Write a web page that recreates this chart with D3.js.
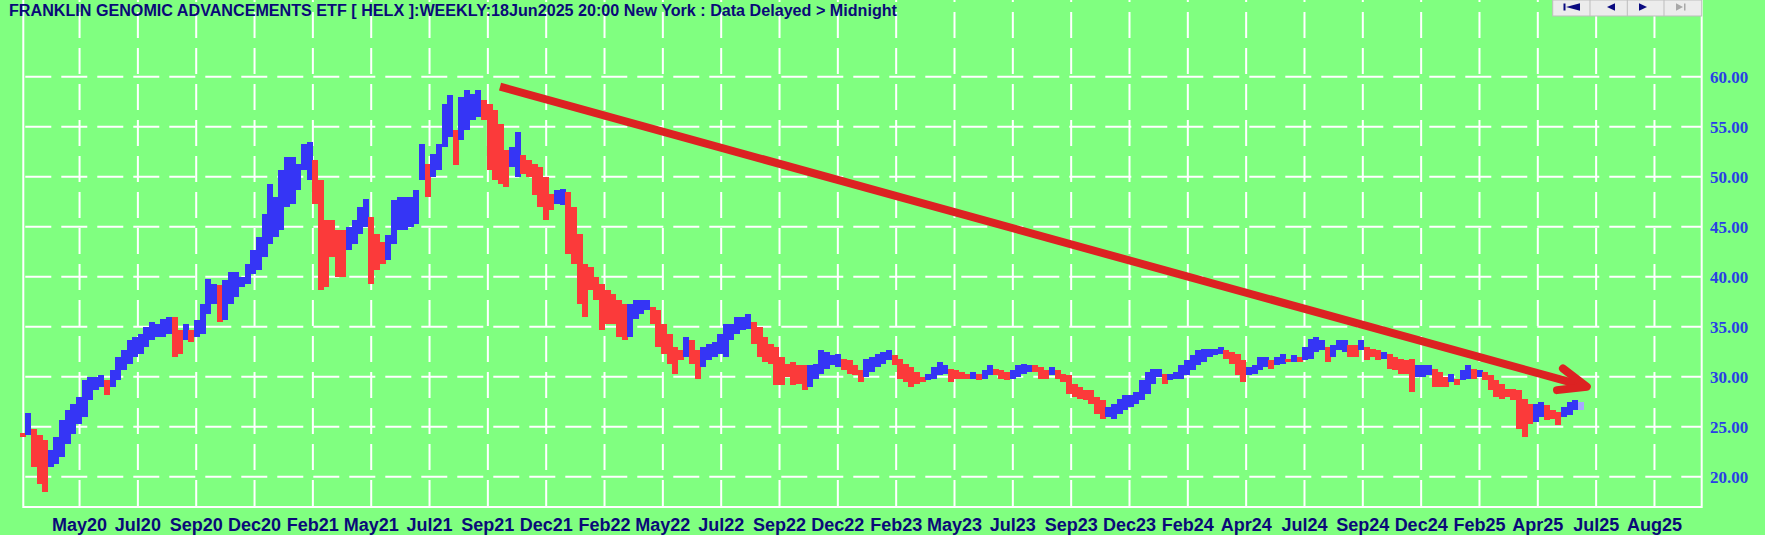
<!DOCTYPE html>
<html><head><meta charset="utf-8">
<script src="https://cdn.jsdelivr.net/npm/d3@7"></script>
<style>html,body{margin:0;padding:0;background:#80ff80;overflow:hidden}svg{display:block}</style>
</head><body><svg id="chart" width="1765" height="535"></svg>
<script>
// ---------- DATA ----------
const titleText = "FRANKLIN GENOMIC ADVANCEMENTS ETF [ HELX ]:WEEKLY:18Jun2025 20:00 New York : Data Delayed > Midnight";
const firstWeekDate = "2020-02-28"; // weekly bars, one per week
const highs = [
24.4,26.4,24.8,24.2,23.7,22.7,24.0,25.7,26.7,27.3,
28.0,29.7,30.0,30.0,30.2,29.7,30.7,32.0,32.7,33.7,
34.0,34.3,35.0,35.5,35.3,35.8,36.0,36.0,34.7,35.3,
34.7,35.7,37.3,39.8,39.3,39.2,39.7,40.5,40.5,40.0,
41.3,42.7,44.0,46.3,49.3,48.0,50.7,52.0,52.0,51.3,
53.3,53.5,51.7,49.7,45.7,45.7,44.7,44.7,45.0,45.7,
47.0,47.8,46.0,44.3,43.5,44.2,47.7,48.0,48.0,48.0,
48.7,53.3,51.3,52.3,53.3,57.3,58.2,54.7,58.0,58.7,
58.3,58.7,57.7,57.3,56.7,55.3,52.7,53.0,54.5,52.2,
51.7,51.3,51.0,50.0,48.3,48.7,48.8,48.5,47.0,44.3,
41.3,41.0,40.0,39.3,38.7,38.3,37.7,37.3,37.3,37.7,
37.7,37.7,37.0,36.7,35.3,34.3,33.0,32.7,34.0,33.7,
32.7,33.0,33.3,33.5,34.3,35.3,35.3,36.0,36.0,36.3,
35.5,35.0,34.0,33.3,33.0,32.0,31.3,31.5,31.2,31.2,
31.2,31.3,32.7,32.5,32.2,32.3,31.8,31.7,31.2,30.7,
31.8,32.0,32.3,32.5,32.7,32.2,31.8,31.3,31.0,30.5,
30.0,30.3,31.0,31.5,31.2,30.8,30.7,30.5,30.3,30.5,
30.3,30.7,31.2,30.8,30.7,30.5,30.7,31.2,31.3,31.2,
31.2,31.0,30.7,31.0,30.7,30.3,30.2,29.3,29.0,28.7,
28.7,28.0,27.7,27.0,27.3,27.8,28.2,28.2,28.5,29.7,
30.5,30.8,30.8,30.3,30.3,30.5,31.2,31.7,32.2,32.7,
32.8,32.8,32.8,33.0,32.7,32.5,32.3,31.7,31.0,31.2,
32.0,32.0,31.7,32.0,32.3,31.8,32.2,32.0,33.0,33.8,
34.0,33.7,33.0,33.2,33.7,33.7,33.2,33.2,33.7,33.0,
32.8,32.7,32.5,32.3,32.0,31.8,31.7,31.8,31.2,31.2,
31.2,30.8,30.5,30.0,30.3,29.8,30.7,31.2,30.8,30.7,
30.5,30.2,29.7,29.3,28.8,28.8,28.7,27.8,27.3,27.3,
27.5,27.2,26.7,26.5,27.0,27.5,27.7,27.5];
const lows = [
24.0,24.2,21.0,19.3,18.5,21.0,21.3,22.0,23.3,24.3,
25.3,26.0,27.7,28.7,29.0,28.2,29.0,29.7,30.7,31.3,
32.0,32.3,33.0,33.7,34.0,34.0,34.3,32.0,32.3,33.7,
33.5,34.0,34.3,36.3,37.3,35.5,35.7,37.3,38.0,39.0,
39.3,40.3,40.7,42.0,43.3,44.0,44.7,47.0,47.3,48.7,
50.7,49.7,47.3,38.7,39.0,42.0,40.0,40.0,42.7,43.3,
44.3,45.0,39.3,40.7,41.3,41.7,43.3,44.7,44.7,45.0,
45.3,49.7,48.0,50.0,50.7,53.0,54.0,51.2,53.7,54.7,
55.7,56.0,55.7,50.7,49.7,49.3,49.0,51.0,50.0,50.3,
50.0,48.2,47.0,45.7,46.7,47.3,47.2,42.3,41.3,37.3,
36.0,38.7,37.7,34.7,35.3,35.3,34.0,33.7,34.0,35.8,
36.3,36.7,35.3,33.0,32.3,31.3,30.3,31.7,32.0,31.3,
29.8,31.0,31.7,32.0,32.3,32.0,33.7,34.3,34.7,34.8,
33.3,32.0,31.5,31.3,29.2,29.2,30.0,29.2,29.3,28.7,
29.0,29.8,30.3,30.8,31.2,31.0,30.7,30.3,30.2,29.5,
30.0,30.5,31.0,31.3,31.7,31.2,29.8,29.5,29.0,29.3,
29.5,29.7,29.8,30.2,30.3,29.5,29.8,29.8,29.8,29.8,
29.7,29.8,30.2,30.2,29.8,29.7,29.8,30.0,30.3,30.5,
30.5,29.8,29.8,30.2,29.8,29.5,28.3,28.0,27.8,27.7,
27.3,26.3,25.8,26.0,25.8,26.3,26.7,27.0,27.3,27.7,
28.3,29.3,30.0,29.3,29.7,29.8,29.8,30.2,30.7,31.2,
31.5,32.0,32.2,32.3,31.8,31.3,30.2,29.5,30.2,30.3,
30.7,31.0,30.8,31.2,31.3,31.5,31.5,31.5,31.7,31.8,
32.5,32.7,31.5,32.0,32.7,32.5,32.0,32.0,32.7,31.7,
32.0,31.7,31.8,30.8,30.7,30.3,30.3,28.5,30.0,30.0,
30.2,29.0,29.0,29.0,29.5,29.2,29.7,29.8,29.8,30.0,
29.7,28.7,28.0,27.8,28.0,27.7,24.8,24.0,25.3,25.5,
26.0,25.7,25.8,25.2,26.0,26.2,26.7,26.7];
// u = up-trend (blue), d = down-trend (red), c = current week; 10 weeks per string
const trendRows = [
"duddduuuuu","uuuuuduuuu","uuuuuuuddu","duuuuduuuu","uuuuuuuuuu",
"uudddddduu","uuddduuuuu","uuduuuuduu","uuddddduud","ddddduuddd",
"dddddddduu","uuddddddud","duuuuuuuuu","dddddddddd","uuuuuudddd",
"uuuuuddddd","duuuuddddu","duuddduuuu","dddudddddd","ddduuuuuuu",
"uuuduuuuuu","uuuudddduu","uuduududuu","uuduuuddud","dduddddduu",
"uddduduudu","dddddddddu","uddduuuc"];
const trend = trendRows.join("").split("");
const yTicks = [20, 25, 30, 35, 40, 45, 50, 55, 60];
const xTickLabels = ["May20","Jul20","Sep20","Dec20","Feb21","May21","Jul21","Sep21","Dec21","Feb22",
  "May22","Jul22","Sep22","Dec22","Feb23","May23","Jul23","Sep23","Dec23","Feb24",
  "Apr24","Jul24","Sep24","Dec24","Feb25","Apr25","Jul25","Aug25"];
const xTickFirstDate = "2020-05-09";
const xTickEveryDays = 72.59;
// trend-line annotation (week index, price)
const arrowStart = { week: 84.9, price: 59.0 };
const arrowEnd = { week: 278.1, price: 29.0 };

// ---------- LAYOUT ----------
const W = 1765, H = 535;
const frame = { left: 23.3, right: 1701.7, top: 0, bottom: 507 };
const C = { bg: "#80ff80", up: "#3535f5", down: "#fb3a3a", cur: "#a8a8ff",
  grid: "#ffffff", arrow: "#dc2222", title: "#0a0a78", ylab: "#2a3ee6", xlab: "#0a0a78" };

const parse = d3.utcParse("%Y-%m-%d");
const d0 = parse(firstWeekDate);
const dates = highs.map((_, i) => d3.utcDay.offset(d0, 7 * i));
const data = highs.map((h, i) => ({ date: dates[i], high: h, low: lows[i], t: trend[i] }));

const x = d3.scaleUtc().domain([dates[0], dates[dates.length - 1]]).range([22.5, 1580.6]);
const y = d3.scaleLinear().domain([20, 60]).range([476.7, 76.7]);
const step = x(dates[1]) - x(dates[0]);

const svg = d3.select("#chart");
svg.append("rect").attr("width", W).attr("height", H).attr("fill", C.bg);

// grid
const t0 = parse(xTickFirstDate);
const tickDates = xTickLabels.map((_, k) => new Date(t0.getTime() + k * xTickEveryDays * 864e5));
const g = svg.append("g").attr("stroke", C.grid).attr("stroke-width", 2);
g.selectAll("line.h").data(yTicks).join("line").attr("class", "h")
  .attr("x1", frame.left).attr("x2", frame.right)
  .attr("y1", d => y(d)).attr("y2", d => y(d))
  .attr("stroke-dasharray", "26,10").attr("stroke-dashoffset", -2);
g.selectAll("line.v").data(tickDates).join("line").attr("class", "v")
  .attr("x1", d => x(d)).attr("x2", d => x(d))
  .attr("y1", frame.top).attr("y2", frame.bottom + 6)
  .attr("stroke-dasharray", "26,10").attr("stroke-dashoffset", -12);
// frame
g.append("path").attr("fill", "none")
  .attr("d", `M${frame.left},${frame.top}V${frame.bottom}H${frame.right}V${frame.top}`);

// bars
svg.append("g").attr("shape-rendering", "crispEdges")
  .selectAll("rect").data(data).join("rect")
  .attr("x", d => x(d.date) - step / 2)
  .attr("width", step + 0.4)
  .attr("y", d => y(d.high))
  .attr("height", d => Math.max(2, y(d.low) - y(d.high)))
  .attr("fill", d => d.t === "u" ? C.up : d.t === "d" ? C.down : C.cur);

// arrow annotation
const wk = w => x(dates[0]) + w * step;
const ax0 = wk(arrowStart.week), ay0 = y(arrowStart.price);
const ax1 = wk(arrowEnd.week), ay1 = y(arrowEnd.price);
const ang = Math.atan2(ay0 - ay1, ax0 - ax1);
const barb = 30, spread = 22 * Math.PI / 180;
const b1 = [ax1 + barb * Math.cos(ang + spread), ay1 + barb * Math.sin(ang + spread)];
const b2 = [ax1 + barb * Math.cos(ang - spread), ay1 + barb * Math.sin(ang - spread)];
const ag = svg.append("g").attr("stroke", C.arrow).attr("stroke-width", 8).attr("fill", "none");
ag.append("line").attr("x1", ax0).attr("y1", ay0).attr("x2", ax1 + 3 * Math.cos(ang)).attr("y2", ay1 + 3 * Math.sin(ang))
  .attr("stroke-linecap", "butt");
ag.append("path").attr("stroke-linecap", "round").attr("stroke-linejoin", "round")
  .attr("d", `M${b1[0]},${b1[1]}L${ax1},${ay1}L${b2[0]},${b2[1]}`);

// y labels
svg.append("g").selectAll("text").data(yTicks).join("text")
  .attr("x", 1710).attr("y", d => y(d) + 6)
  .attr("font-family", "'Liberation Serif', 'DejaVu Serif', serif").attr("font-weight", "bold")
  .attr("font-size", 17).attr("fill", C.ylab)
  .text(d => d.toFixed(2));

// x labels
svg.append("g").selectAll("text").data(tickDates).join("text")
  .attr("x", d => x(d)).attr("y", 531)
  .attr("text-anchor", "middle")
  .attr("font-family", "'Liberation Sans Narrow', 'Liberation Sans', Arial, sans-serif").attr("font-weight", "bold")
  .attr("font-size", 18).attr("fill", C.xlab)
  .text((d, k) => xTickLabels[k]);

// title
svg.append("text").attr("x", 9).attr("y", 16)
  .attr("font-family", "'Liberation Sans Narrow', 'Liberation Sans', Arial, sans-serif").attr("font-weight", "bold")
  .attr("font-size", 16).attr("fill", C.title)
  .attr("textLength", 888).attr("lengthAdjust", "spacingAndGlyphs")
  .text(titleText);

// navigation buttons
const nav = svg.append("g");
const nb = [1552.7, 1590, 1627.3, 1664, 1701.7];
nav.append("rect").attr("x", nb[0]).attr("y", 0).attr("width", nb[4] - nb[0]).attr("height", 16)
  .attr("fill", "#ececec").attr("stroke", "#bdbdbd");
nb.slice(1, 4).forEach(v => nav.append("line").attr("x1", v).attr("x2", v).attr("y1", 0).attr("y2", 16).attr("stroke", "#bdbdbd"));
const navy = "#0a0a80";
nav.append("rect").attr("x", 1563.5).attr("y", 3.5).attr("width", 2).attr("height", 7).attr("fill", navy);
nav.append("path").attr("d", "M1566,7L1580,3.3V10.7Z").attr("fill", navy);
nav.append("path").attr("d", "M1607,7L1615,3.3V10.7Z").attr("fill", navy);
nav.append("path").attr("d", "M1647,7L1639,3.3V10.7Z").attr("fill", navy);
nav.append("path").attr("d", "M1683,7L1676,3.3V10.7Z").attr("fill", "#a8a8a8");
nav.append("rect").attr("x", 1684).attr("y", 3.5).attr("width", 1.5).attr("height", 7).attr("fill", "#a8a8a8");
</script></body></html>
